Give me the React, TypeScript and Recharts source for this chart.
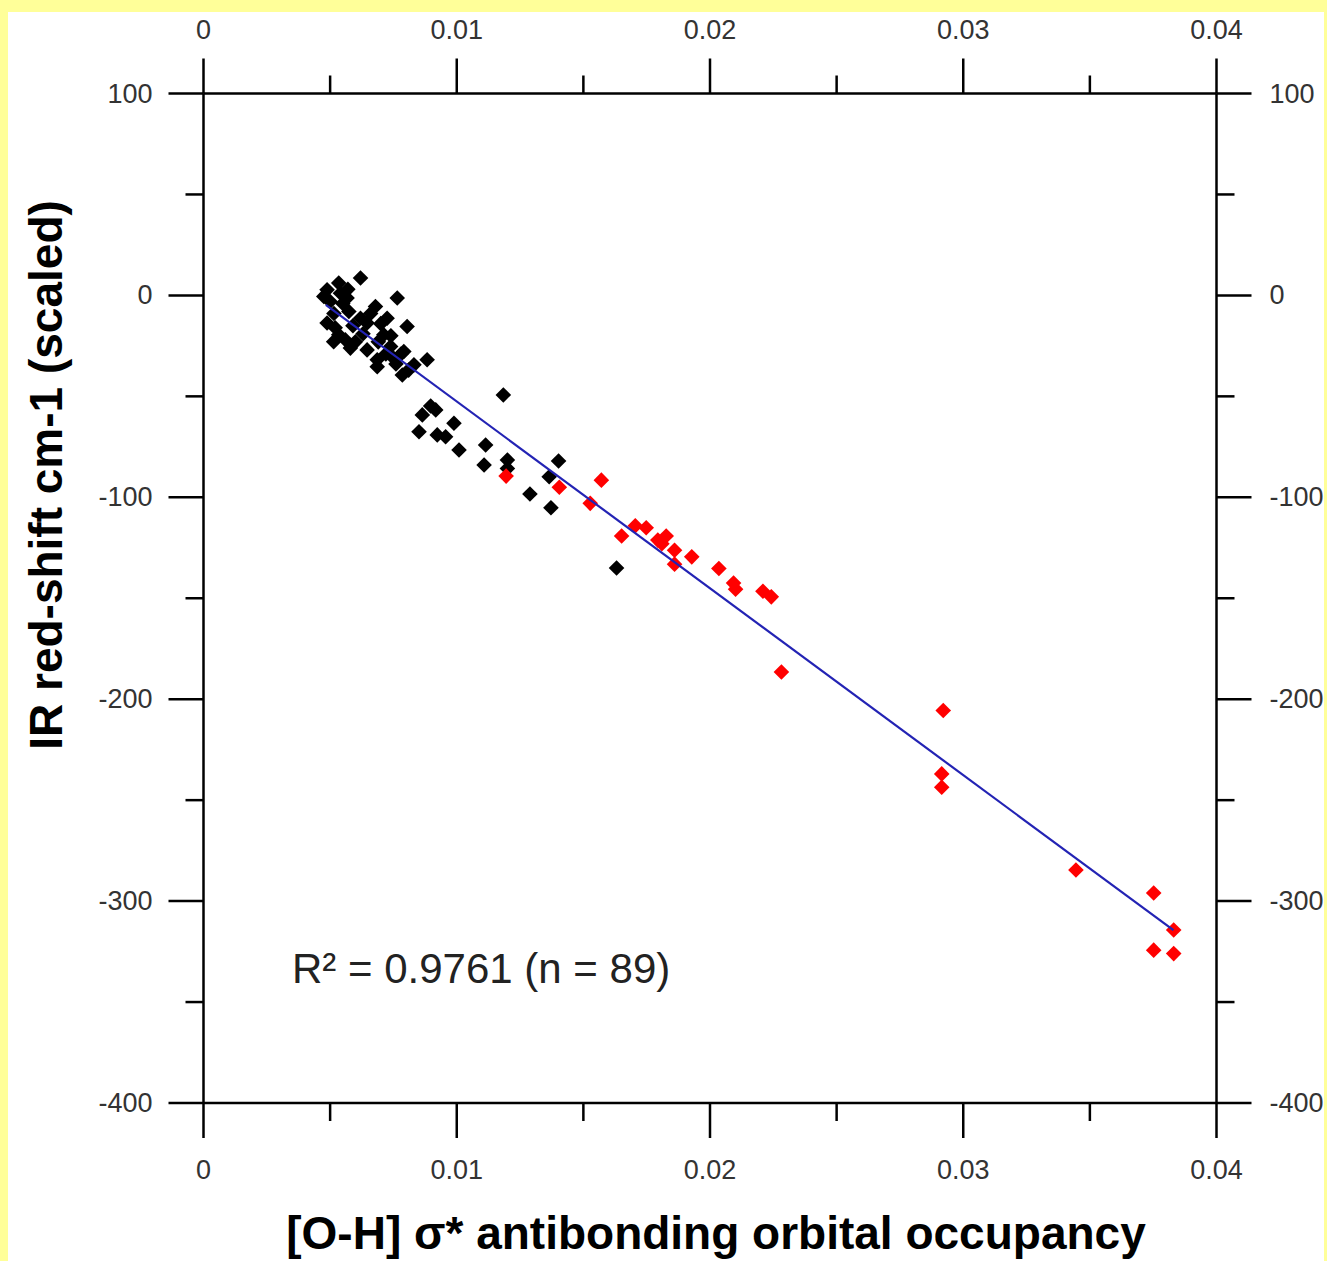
import React from 'react';
import { ScatterChart, Scatter, XAxis, YAxis } from 'recharts';

// --- Data ---
// black series (clustered, low occupancy)
const blackOccupancy = [
  0.0062, 0.00534, 0.00488, 0.00475, 0.00541, 0.00567, 0.00765, 0.00679, 0.00574, 0.0062,
  0.00488, 0.00725, 0.00646, 0.00804, 0.00712, 0.00534, 0.0056, 0.00514, 0.0058, 0.00646,
  0.00739, 0.00791, 0.00686, 0.00751, 0.00883, 0.00686, 0.00785, 0.00831,
  0.005, 0.00515, 0.0055, 0.0059, 0.0063, 0.0066, 0.0069, 0.0072, 0.0076, 0.006,
  0.0052, 0.0057, 0.007, 0.0078, 0.0081, 0.0074,
  0.01184, 0.00897, 0.00917, 0.00864, 0.00989, 0.00851, 0.00923, 0.00956, 0.01009, 0.01114,
  0.01108, 0.012, 0.012, 0.01402, 0.01365, 0.01289, 0.01372, 0.01631,
];
const blackShift = [
  8.6, 6.1, 2.8, -0.5, 1.1, -1.3, -1.3, -5.5, -8, -11.3,
  -13.7, -11.3, -13.7, -15.4, -19.5, -19.5, -22, -22.9, -26.1, -27,
  -25.3, -27.8, -31.9, -31.1, -31.9, -35.3, -39.4, -34.4,
  -3, -9, -4, -15, -19, -9, -23, -29, -34, -23,
  -16, 3, -14, -29, -37, -20,
  -49.3, -54.8, -56.7, -59.2, -63.3, -67.5, -69.1, -70, -76.6, -74.1,
  -84, -81.5, -85.7, -82, -89.8, -98.4, -105.2, -135,
];

// red series
const redOccupancy = [
  0.01195, 0.01405, 0.01571, 0.01527, 0.01651, 0.01705, 0.01748, 0.01794, 0.0181, 0.01827,
  0.0186, 0.0186, 0.01928, 0.02035, 0.02093, 0.02101, 0.02209, 0.02242, 0.02282, 0.02921,
  0.02915, 0.02915, 0.03445, 0.03752, 0.03831, 0.03752, 0.03831,
];
const redShift = [
  -89.5, -95, -91.5, -103, -119.2, -114.1, -115.1, -121.2, -123, -119.2,
  -126.2, -133.1, -129.5, -135.3, -142.5, -145.5, -146.5, -149.3, -186.5, -205.6,
  -237, -243.6, -284.6, -296, -314.3, -324.3, -326,
];

// regression line end points
const fitOccupancy = [0.00483, 0.0383];
const fitShift = [-4.7, -314.4];

const xMajorTicks = [0, 0.01, 0.02, 0.03, 0.04];
const xMinorTicks = [0.005, 0.015, 0.025, 0.035];
const yMajorTicks = [-400, -300, -200, -100, 0, 100];
const yMinorTicks = [-350, -250, -150, -50, 50];

const xTicks = [...xMajorTicks, ...xMinorTicks].sort((a, b) => a - b);
const yTicks = [...yMajorTicks, ...yMinorTicks].sort((a, b) => a - b);

const toPoints = (xs: number[], ys: number[]) => xs.map((x, i) => ({ x, y: ys[i] }));
const blackData = toPoints(blackOccupancy, blackShift);
const redData = toPoints(redOccupancy, redShift);
const fitData = toPoints(fitOccupancy, fitShift);

const FONT = '"Liberation Sans", Arial, Helvetica, sans-serif';

const Diamond = (props: any) => {
  const { cx, cy, fill } = props;
  const r = 7.8;
  return <path d={`M${cx},${cy - r}L${cx + r},${cy}L${cx},${cy + r}L${cx - r},${cy}Z`} fill={fill} />;
};

const AxisTick = (props: any) => {
  const { x, y, payload, side } = props;
  const v = payload.value;
  const horizontal = side === 'top' || side === 'bottom';
  const major = horizontal ? xMajorTicks.includes(v) : yMajorTicks.includes(v);
  const len = major ? 35 : 18;
  let line;
  let label = null;
  const txt = { fontFamily: FONT, fontSize: 27, fill: '#333' };
  if (side === 'bottom') {
    line = <line x1={x} y1={y} x2={x} y2={y + len} />;
    if (major) label = <text x={x} y={y + 67} textAnchor="middle" dominantBaseline="central" {...txt}>{String(v)}</text>;
  } else if (side === 'top') {
    line = <line x1={x} y1={y} x2={x} y2={y - len} />;
    if (major) label = <text x={x} y={y - 64} textAnchor="middle" dominantBaseline="central" {...txt}>{String(v)}</text>;
  } else if (side === 'left') {
    line = <line x1={x} y1={y} x2={x - len} y2={y} />;
    if (major) label = <text x={x - 51} y={y} textAnchor="end" dominantBaseline="central" {...txt}>{String(v)}</text>;
  } else {
    line = <line x1={x} y1={y} x2={x + len} y2={y} />;
    if (major) label = <text x={x + 53} y={y} textAnchor="start" dominantBaseline="central" {...txt}>{String(v)}</text>;
  }
  return (
    <g>
      <g stroke="#000" strokeWidth={2.5}>{line}</g>
      {label}
    </g>
  );
};

const axisLine = { stroke: '#000', strokeWidth: 2.5 };

export default function App() {
  return (
    <div style={{ position: 'relative', width: 1327, height: 1261, background: '#FFFF99', overflow: 'hidden' }}>
      <style>{'body{margin:0}'}</style>
      <div style={{ position: 'absolute', left: 8, top: 12, width: 1316, height: 1249, background: '#fff' }} />
      <div style={{ position: 'absolute', left: 0, top: 0 }}>
        <ScatterChart width={1327} height={1261} margin={{ top: 33.5, right: 10.5, bottom: 98, left: 103.5 }}>
          <XAxis
            xAxisId="bottom"
            orientation="bottom"
            type="number"
            dataKey="x"
            domain={[0, 0.04]}
            ticks={xTicks}
            interval={0}
            height={60}
            tickSize={0}
            tickMargin={0}
            tickLine={false}
            axisLine={axisLine}
            tick={<AxisTick side="bottom" />}
          />
          <XAxis
            xAxisId="top"
            orientation="top"
            type="number"
            dataKey="x"
            domain={[0, 0.04]}
            ticks={xTicks}
            interval={0}
            height={60}
            tickSize={0}
            tickMargin={0}
            tickLine={false}
            axisLine={axisLine}
            tick={<AxisTick side="top" />}
          />
          <YAxis
            yAxisId="left"
            orientation="left"
            type="number"
            dataKey="y"
            domain={[-400, 100]}
            ticks={yTicks}
            interval={0}
            width={100}
            tickSize={0}
            tickMargin={0}
            tickLine={false}
            axisLine={axisLine}
            tick={<AxisTick side="left" />}
          />
          <YAxis
            yAxisId="right"
            orientation="right"
            type="number"
            dataKey="y"
            domain={[-400, 100]}
            ticks={yTicks}
            interval={0}
            width={100}
            tickSize={0}
            tickMargin={0}
            tickLine={false}
            axisLine={axisLine}
            tick={<AxisTick side="right" />}
          />
          <Scatter
            xAxisId="bottom"
            yAxisId="left"
            data={blackData}
            fill="#000"
            shape={<Diamond />}
            isAnimationActive={false}
          />
          <Scatter
            xAxisId="bottom"
            yAxisId="left"
            data={redData}
            fill="#FF0000"
            shape={<Diamond />}
            isAnimationActive={false}
          />
          <Scatter
            xAxisId="top"
            yAxisId="right"
            data={fitData}
            line={{ stroke: '#2323B4', strokeWidth: 2.2 }}
            shape={() => <g />}
            isAnimationActive={false}
          />
        </ScatterChart>
      </div>
      <svg
        width={1327}
        height={1261}
        style={{ position: 'absolute', left: 0, top: 0, pointerEvents: 'none' }}
      >
        <text
          x={46}
          y={475}
          transform="rotate(-90 46 475)"
          textAnchor="middle"
          dominantBaseline="central"
          fontFamily={FONT}
          fontWeight="bold"
          fontSize={46}
          fill="#000"
        >
          IR red-shift cm-1 (scaled)
        </text>
        <text
          x={716}
          y={1233}
          textAnchor="middle"
          dominantBaseline="central"
          fontFamily={FONT}
          fontWeight="bold"
          fontSize={46}
          fill="#000"
        >
          [O-H] σ* antibonding orbital occupancy
        </text>
        <text
          x={292}
          y={968}
          dominantBaseline="central"
          fontFamily={FONT}
          fontSize={42}
          fill="#222"
        >
          R² = 0.9761 (n = 89)
        </text>
      </svg>
    </div>
  );
}
